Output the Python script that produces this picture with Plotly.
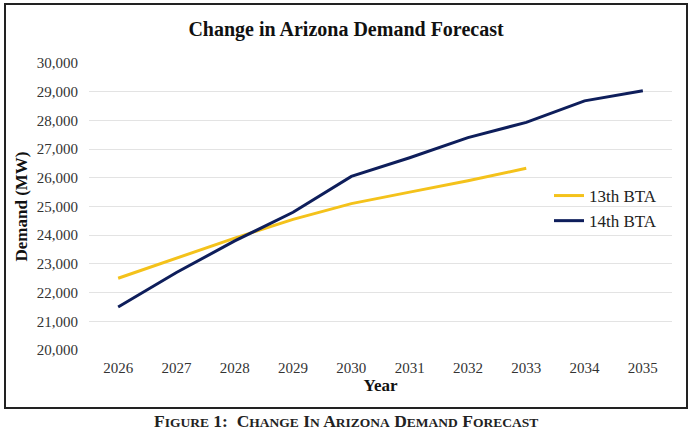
import plotly.graph_objects as go

# data
years = ["2026", "2027", "2028", "2029", "2030", "2031", "2032", "2033", "2034", "2035"]
bta13 = [22500, 23200, 23900, 24550, 25100, 25500, 25900, 26330]
bta14 = [21500, 22700, 23800, 24800, 26050, 26700, 27400, 27930, 28680, 29030]
y_ticks = list(range(20000, 30001, 1000))

serif = "Liberation Serif, Times New Roman, serif"

# plot area in pixels (page is 700x438)
L, R, T, B = 89, 672, 63, 350
W, H = 700, 438


def px(x):
    return (x - L) / (R - L)


def py(y):
    return (B - y) / (B - T)


fig = go.Figure()
fig.add_trace(go.Scatter(x=years[:len(bta13)], y=bta13, mode="lines", name="13th BTA",
                         line=dict(color="#F4C21B", width=3)))
fig.add_trace(go.Scatter(x=years, y=bta14, mode="lines", name="14th BTA",
                         line=dict(color="#0E1E5B", width=3)))

fig.update_layout(
    width=W, height=H,
    margin=dict(l=L, r=W - R, t=T, b=H - B),
    paper_bgcolor="white", plot_bgcolor="white",
    font=dict(family=serif, color="#222222"),
    showlegend=True,
    legend=dict(x=px(549), y=py(178), xanchor="left", yanchor="top",
                font=dict(size=17, family=serif, color="#222222"),
                bgcolor="rgba(0,0,0,0)", itemwidth=30),
    title=dict(text="<b>Change in Arizona Demand Forecast</b>", x=346 / W, xanchor="center",
               y=1 - 29 / H, yanchor="middle",
               font=dict(size=20, family=serif, color="#111111")),
    xaxis=dict(type="category", range=[-0.5, 9.5], showgrid=False, zeroline=False,
               showline=False, ticks="", ticklabelstandoff=7,
               tickfont=dict(size=15, family=serif, color="#333333"),
               title=dict(text="<b>Year</b>", font=dict(size=17, family=serif, color="#111111"),
                          standoff=4)),
    yaxis=dict(range=[20000, 30000], tickvals=y_ticks, tickformat=",", showgrid=True,
               gridcolor="#E3E3E3", gridwidth=1, zeroline=False, showline=False, ticks="",
               ticklabelstandoff=10,
               tickfont=dict(size=15, family=serif, color="#333333"),
               title=dict(text="<b>Demand (MW)</b>", font=dict(size=17, family=serif, color="#111111"),
                          standoff=4)),
)

# outer frame around the chart
fig.add_shape(type="rect", xref="paper", yref="paper",
              x0=px(5), x1=px(687), y0=py(408), y1=py(4),
              line=dict(color="#222222", width=2), fillcolor="rgba(0,0,0,0)", layer="above")

# figure caption in small caps
big, small = 17.5, 13.5


def smallcaps(word):
    return word[0] + '<span style="font-size:%spx">%s</span>' % (small, word[1:])


caption = "<b>" + smallcaps("FIGURE") + " 1:  " + " ".join(
    smallcaps(w) for w in ["CHANGE", "IN", "ARIZONA", "DEMAND", "FORECAST"]) + "</b>"
fig.add_annotation(text=caption, xref="paper", yref="paper", x=px(346), y=py(421),
                   xanchor="center", yanchor="middle", showarrow=False,
                   font=dict(size=big, family=serif, color="#222222"))

# the page has no body margin, so the chart fills the window exactly
fig.write_html("out.html", config={"displayModeBar": False},
               post_script="document.body.style.margin='0';")
